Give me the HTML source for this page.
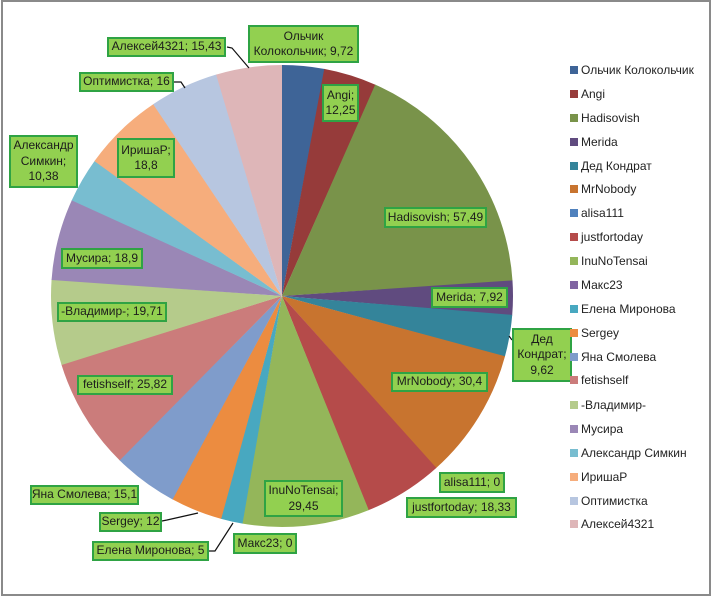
<!DOCTYPE html>
<html><head><meta charset="utf-8">
<style>
html,body{margin:0;padding:0;background:#fff;}
body{width:712px;height:596px;position:relative;overflow:hidden;font-family:"Liberation Sans","DejaVu Sans",sans-serif;}
.frame{position:absolute;left:1px;top:0;width:710px;height:596px;box-sizing:border-box;border:2px solid #8a8a8a;}
.lb{position:absolute;box-sizing:border-box;border:2px solid #2fa344;background:#92d050;color:#1c1c1c;font-size:12px;line-height:15.5px;display:flex;align-items:center;justify-content:center;text-align:center;white-space:nowrap;}
.lg{position:absolute;left:570px;font-size:12px;color:#222;white-space:nowrap;height:14px;line-height:14px;}
.lg i{position:absolute;left:0;top:3px;width:8px;height:8px;}
.lg span{position:absolute;left:11px;top:0;}
</style></head><body>
<div class="frame"></div>
<svg width="712" height="596" style="position:absolute;left:0;top:0">
<g transform="translate(282 296) rotate(-90)" fill="none" stroke-width="231">
<circle r="115.5" stroke="#3e6497" stroke-dasharray="21.5 800" stroke-dashoffset="0"/>
<circle r="115.5" stroke="#963b3a" stroke-dasharray="27.05 800" stroke-dashoffset="-21.226"/>
<circle r="115.5" stroke="#79934a" stroke-dasharray="125.85 800" stroke-dashoffset="-47.977"/>
<circle r="115.5" stroke="#604b7f" stroke-dasharray="17.6 800" stroke-dashoffset="-173.522"/>
<circle r="115.5" stroke="#34849a" stroke-dasharray="21.3 800" stroke-dashoffset="-190.818"/>
<circle r="115.5" stroke="#c8742f" stroke-dasharray="66.7 800" stroke-dashoffset="-211.826"/>
<circle r="115.5" stroke="#b54b4a" stroke-dasharray="40.33 800" stroke-dashoffset="-278.213"/>
<circle r="115.5" stroke="#94b65a" stroke-dasharray="64.6 800" stroke-dashoffset="-318.241"/>
<circle r="115.5" stroke="#48a8c0" stroke-dasharray="11.2 800" stroke-dashoffset="-382.553"/>
<circle r="115.5" stroke="#ec8c40" stroke-dasharray="26.5 800" stroke-dashoffset="-393.472"/>
<circle r="115.5" stroke="#7f9ccb" stroke-dasharray="33.27 800" stroke-dashoffset="-419.677"/>
<circle r="115.5" stroke="#cb7c7b" stroke-dasharray="56.68 800" stroke-dashoffset="-452.652"/>
<circle r="115.5" stroke="#b5cb8b" stroke-dasharray="43.34 800" stroke-dashoffset="-509.037"/>
<circle r="115.5" stroke="#9a87b6" stroke-dasharray="41.57 800" stroke-dashoffset="-552.079"/>
<circle r="115.5" stroke="#78bdd0" stroke-dasharray="22.97 800" stroke-dashoffset="-593.353"/>
<circle r="115.5" stroke="#f6ad7c" stroke-dasharray="41.35 800" stroke-dashoffset="-616.02"/>
<circle r="115.5" stroke="#b7c6e0" stroke-dasharray="35.24 800" stroke-dashoffset="-657.075"/>
<circle r="115.5" stroke="#deb6b8" stroke-dasharray="33.8 800" stroke-dashoffset="-692.015"/>
</g>
<g fill="none" stroke="#111" stroke-width="1.2">
<polyline points="227,47 232,48 249,68"/>
<polyline points="174,82 181,82 185,88"/>
<polyline points="162,521 167,520 198,513"/>
<polyline points="209,551 215,551 233,523"/>
<polyline points="509,336 512,340"/>
</g>
</svg>

<div class="lb" style="left:107px;top:37px;width:119px;height:20px;">Алексей4321; 15,43</div>
<div class="lb" style="left:248px;top:25px;width:111px;height:38px;">Ольчик<br>Колокольчик; 9,72</div>
<div class="lb" style="left:79px;top:72px;width:95px;height:20px;">Оптимистка; 16</div>
<div class="lb" style="left:322px;top:84px;width:37px;height:38px;">Angi;<br>12,25</div>
<div class="lb" style="left:9px;top:135px;width:69px;height:53px;">Александр<br>Симкин;<br>10,38</div>
<div class="lb" style="left:117px;top:138px;width:58px;height:40px;">ИришаР;<br>18,8</div>
<div class="lb" style="left:384px;top:207px;width:103px;height:21px;">Hadisovish; 57,49</div>
<div class="lb" style="left:61px;top:248px;width:82px;height:21px;">Мусира; 18,9</div>
<div class="lb" style="left:431px;top:287px;width:77px;height:21px;">Merida; 7,92</div>
<div class="lb" style="left:57px;top:302px;width:110px;height:20px;">-Владимир-; 19,71</div>
<div class="lb" style="left:512px;top:328px;width:60px;height:54px;">Дед<br>Кондрат;<br>9,62</div>
<div class="lb" style="left:391px;top:372px;width:97px;height:20px;">MrNobody; 30,4</div>
<div class="lb" style="left:77px;top:375px;width:96px;height:20px;">fetishself; 25,82</div>
<div class="lb" style="left:439px;top:472px;width:66px;height:21px;">alisa111; 0</div>
<div class="lb" style="left:264px;top:480px;width:79px;height:37px;">InuNoTensai;<br>29,45</div>
<div class="lb" style="left:30px;top:485px;width:109px;height:20px;">Яна Смолева; 15,1</div>
<div class="lb" style="left:406px;top:497px;width:111px;height:21px;">justfortoday; 18,33</div>
<div class="lb" style="left:99px;top:512px;width:63px;height:20px;">Sergey; 12</div>
<div class="lb" style="left:233px;top:533px;width:64px;height:21px;">Макс23; 0</div>
<div class="lb" style="left:92px;top:541px;width:117px;height:20px;">Елена Миронова; 5</div>

<div class="lg" style="top:63px"><i style="background:#3e6497"></i><span>Ольчик Колокольчик</span></div>
<div class="lg" style="top:87px"><i style="background:#963b3a"></i><span>Angi</span></div>
<div class="lg" style="top:111px"><i style="background:#79934a"></i><span>Hadisovish</span></div>
<div class="lg" style="top:135px"><i style="background:#604b7f"></i><span>Merida</span></div>
<div class="lg" style="top:159px"><i style="background:#34849a"></i><span>Дед Кондрат</span></div>
<div class="lg" style="top:182px"><i style="background:#c8742f"></i><span>MrNobody</span></div>
<div class="lg" style="top:206px"><i style="background:#4f81bd"></i><span>alisa111</span></div>
<div class="lg" style="top:230px"><i style="background:#b54b4a"></i><span>justfortoday</span></div>
<div class="lg" style="top:254px"><i style="background:#94b65a"></i><span>InuNoTensai</span></div>
<div class="lg" style="top:278px"><i style="background:#8064a2"></i><span>Макс23</span></div>
<div class="lg" style="top:302px"><i style="background:#48a8c0"></i><span>Елена Миронова</span></div>
<div class="lg" style="top:326px"><i style="background:#ec8c40"></i><span>Sergey</span></div>
<div class="lg" style="top:350px"><i style="background:#7f9ccb"></i><span>Яна Смолева</span></div>
<div class="lg" style="top:373px"><i style="background:#cb7c7b"></i><span>fetishself</span></div>
<div class="lg" style="top:398px"><i style="background:#b5cb8b"></i><span>-Владимир-</span></div>
<div class="lg" style="top:422px"><i style="background:#9a87b6"></i><span>Мусира</span></div>
<div class="lg" style="top:446px"><i style="background:#78bdd0"></i><span>Александр Симкин</span></div>
<div class="lg" style="top:470px"><i style="background:#f6ad7c"></i><span>ИришаР</span></div>
<div class="lg" style="top:494px"><i style="background:#b7c6e0"></i><span>Оптимистка</span></div>
<div class="lg" style="top:517px"><i style="background:#deb6b8"></i><span>Алексей4321</span></div>
</body></html>
